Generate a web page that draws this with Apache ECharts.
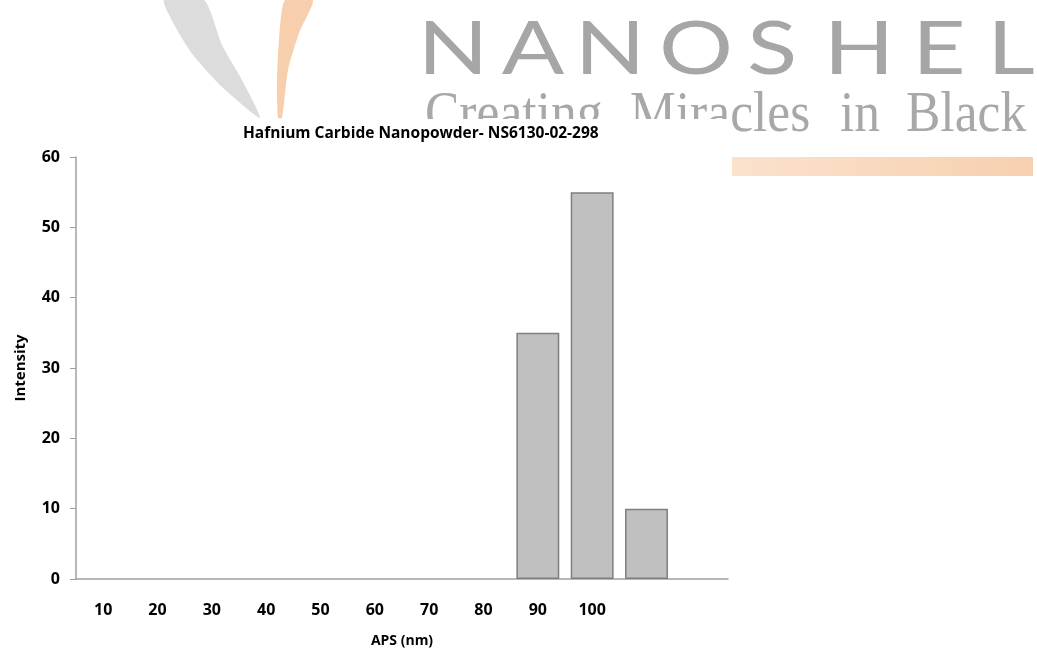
<!DOCTYPE html>
<html>
<head>
<meta charset="utf-8">
<script src="https://cdn.jsdelivr.net/npm/echarts@6/dist/echarts.min.js"></script>
<style>
  html, body { margin: 0; padding: 0; background: #fff; }
  #chart { width: 1037px; height: 648px; }
</style>
</head>
<body>
<div id="chart"></div>
<script>
const sizes = ['10', '20', '30', '40', '50', '60', '70', '80', '90', '100', '', ''];
const intensity = [0, 0, 0, 0, 0, 0, 0, 0, 35, 55, 10, 0];
const yTicks = [0, 10, 20, 30, 40, 50, 60];

const brandLetters = ['N', 'A', 'N', 'O', 'S', 'H', 'E', 'L'];
const brandCenters = [453, 533, 610, 696, 772, 859, 939, 1011];
const sloganWords = ['Creating', 'Miracles', 'in', 'Black'];
const sloganStarts = [425, 630, 840, 906];

const labelFont = 'Open Sans';

function logo() {
    const els = [];
    // grey swoosh
    els.push({
        type: 'polygon',
        z: -10,
        shape: {
            points: [[164, 0], [176, 28], [193, 55], [222, 87], [260, 118],
                     [242, 80], [222, 45], [204, 0]],
            smooth: 0.2
        },
        style: { fill: '#dcdcdc' }
    });
    // orange swoosh
    els.push({
        type: 'polygon',
        z: -10,
        shape: {
            points: [[285, 0], [279, 40], [277, 83], [278, 118],
                     [282, 118], [288, 70], [299, 33], [313, 0]],
            smooth: 0.2
        },
        style: { fill: '#f7cfac' }
    });
    brandLetters.forEach((ch, i) => {
        els.push({
            type: 'text',
            z: -9,
            x: brandCenters[i],
            y: 50,
            scaleX: 1.25,
            style: {
                text: ch,
                font: '400 74px Lato',
                fill: '#a6a6a6',
                align: 'center',
                verticalAlign: 'middle'
            }
        });
    });
    sloganWords.forEach((w, i) => {
        els.push({
            type: 'text',
            z: -9,
            x: sloganStarts[i],
            y: 116,
            scaleX: 0.92,
            style: {
                text: w,
                font: '56px "Liberation Serif"',
                fill: '#a8a8a8',
                align: 'left',
                verticalAlign: 'middle'
            }
        });
    });
    // white area behind the chart cuts the logo
    els.push({
        type: 'rect',
        z: -8,
        shape: { x: 0, y: 119, width: 730, height: 529 },
        style: { fill: '#ffffff' }
    });
    // orange bar
    els.push({
        type: 'rect',
        z: -8,
        shape: { x: 732, y: 157, width: 301, height: 19 },
        style: {
            fill: {
                type: 'linear', x: 0, y: 0, x2: 1, y2: 0,
                colorStops: [
                    { offset: 0, color: '#fbe2cd' },
                    { offset: 1, color: '#f6d0b0' }
                ]
            }
        }
    });
    return els;
}

const option = {
    backgroundColor: '#ffffff',
    animation: false,
    title: {
        text: 'Hafnium Carbide Nanopowder- NS6130-02-298',
        left: 243,
        top: 126,
        padding: 0,
        textStyle: {
            fontFamily: labelFont,
            fontWeight: 'bold',
            fontSize: 15.5,
            color: '#000'
        }
    },
    graphic: logo(),
    grid: {
        left: 76,
        right: 309,
        top: 157,
        bottom: 69,
        containLabel: false,
        outerBoundsMode: 'none'
    },
    xAxis: {
        type: 'category',
        data: sizes,
        name: 'APS (nm)',
        nameLocation: 'middle',
        nameGap: 55,
        nameTextStyle: {
            fontFamily: labelFont,
            fontWeight: 'bold',
            fontSize: 14,
            color: '#000'
        },
        axisLine: { lineStyle: { color: '#a0a0a0', width: 1.5 } },
        axisTick: { show: false },
        axisLabel: {
            interval: 0,
            margin: 23,
            fontFamily: labelFont,
            fontWeight: 'bold',
            fontSize: 16,
            color: '#000'
        }
    },
    yAxis: {
        type: 'value',
        min: 0,
        max: 60,
        interval: 10,
        name: 'Intensity',
        nameLocation: 'middle',
        nameGap: 48,
        nameRotate: 90,
        nameTextStyle: {
            fontFamily: labelFont,
            fontWeight: 'bold',
            fontSize: 15,
            color: '#000'
        },
        axisLine: { show: true, lineStyle: { color: '#a0a0a0', width: 1.5 } },
        axisTick: { show: true, length: 6, lineStyle: { color: '#a0a0a0' } },
        splitLine: { show: false },
        axisLabel: {
            margin: 16,
            fontFamily: labelFont,
            fontWeight: 'bold',
            fontSize: 16,
            color: '#000',
            formatter: v => (yTicks.indexOf(v) >= 0 ? String(v) : '')
        }
    },
    series: [{
        type: 'bar',
        // empty bins are left out so they draw no outline on the axis
        data: intensity.map(v => (v === 0 ? '-' : v)),
        barCategoryGap: '21%',
        itemStyle: {
            color: '#c0c0c0',
            borderColor: '#7f7f7f',
            borderWidth: 1.5
        }
    }]
};

const chart = echarts.init(document.getElementById('chart'), null, { renderer: 'canvas' });
chart.setOption(option);
</script>
</body>
</html>
